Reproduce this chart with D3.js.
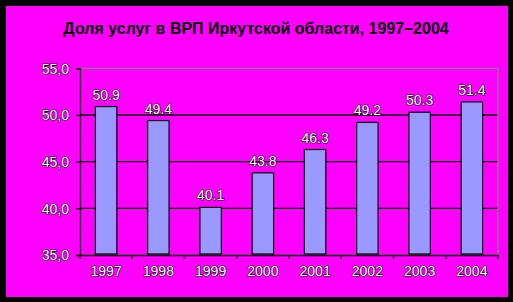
<!DOCTYPE html>
<html>
<head>
<meta charset="utf-8">
<script src="https://cdn.jsdelivr.net/npm/d3@7"></script>
<style>
  html, body { margin: 0; padding: 0; background: #000; }
  svg { display: block; }
  .lbl { font-family: "Liberation Sans", Arial, sans-serif; font-size: 14px;
         fill: #fff; stroke: #000; stroke-width: 1.1px; paint-order: stroke; }
</style>
</head>
<body>
<svg width="513" height="302"></svg>
<script>
var years = ["1997", "1998", "1999", "2000", "2001", "2002", "2003", "2004"];
var values = [50.9, 49.4, 40.1, 43.8, 46.3, 49.2, 50.3, 51.4];
var yTicks = [35, 40, 45, 50, 55];

var svg = d3.select("svg"),
  width = +svg.attr("width"),
  height = +svg.attr("height");

// black frame, magenta page
svg.append("rect").attr("width", width).attr("height", height).attr("fill", "#000");
svg.append("rect").attr("x", 6).attr("y", 6).attr("width", 502).attr("height", 291).attr("fill", "#ff00ff");

var plotLeft = 80, plotRight = 498, plotTop = 68.3, plotBottom = 255;

var x = d3.scaleBand().domain(years).range([plotLeft, plotRight]).paddingInner(0.59).paddingOuter(0.295);
var band = d3.scaleBand().domain(years).range([plotLeft, plotRight]);
var y = d3.scaleLinear().domain([35, 55]).range([plotBottom, plotTop]);

svg.append("text")
  .attr("x", 256).attr("y", 34)
  .attr("text-anchor", "middle")
  .style("font-family", "'Liberation Sans', Arial, sans-serif")
  .style("font-size", "16px").style("font-weight", "bold")
  .text("Доля услуг в ВРП Иркутской области, 1997–2004");

// gridlines
svg.append("g").selectAll("line")
  .data(yTicks.filter(function(d) { return d > 35; }))
  .enter().append("line")
  .attr("x1", plotLeft).attr("x2", plotRight)
  .attr("y1", function(d) { return y(d); }).attr("y2", function(d) { return y(d); })
  .attr("stroke", function(d) { return d === 55 ? "#808080" : "#000"; })
  .attr("stroke-width", 1.3);

// right border
svg.append("line")
  .attr("x1", plotRight).attr("x2", plotRight).attr("y1", plotTop).attr("y2", plotBottom)
  .attr("stroke", "#808080").attr("stroke-width", 1.3);

// bars
svg.append("g").selectAll("rect")
  .data(values)
  .enter().append("rect")
  .attr("x", function(d, i) { return x(years[i]); })
  .attr("width", x.bandwidth())
  .attr("y", function(d) { return y(d); })
  .attr("height", function(d) { return y(35) - y(d) - 1; })
  .attr("fill", "#9999ff")
  .attr("stroke", "#000")
  .attr("stroke-width", 1.2);

// value labels
svg.append("g").selectAll("text")
  .data(values)
  .enter().append("text")
  .attr("class", "lbl")
  .attr("x", function(d, i) { return x(years[i]) + x.bandwidth() / 2; })
  .attr("y", function(d) { return y(d) - 7; })
  .attr("text-anchor", "middle")
  .text(function(d) { return d.toFixed(1); });

// y axis
var yAxis = svg.append("g")
  .attr("transform", "translate(" + plotLeft + ",0)")
  .call(d3.axisLeft(y).tickValues(yTicks).tickSize(4).tickPadding(7)
    .tickFormat(function(d) { return d3.format(".1f")(d).replace(".", ","); }));
yAxis.select(".domain").attr("stroke", "#000").attr("stroke-width", 1.3);
yAxis.selectAll(".tick line").attr("stroke", "#000").attr("stroke-width", 1.3);
yAxis.selectAll("text").attr("class", "lbl").attr("dy", "0.35em");

// x axis
var xAxis = svg.append("g")
  .attr("transform", "translate(0," + plotBottom + ")")
  .call(d3.axisBottom(band).tickSize(0).tickPadding(21));
xAxis.select(".domain").attr("stroke", "#000").attr("stroke-width", 1.3);
xAxis.selectAll("text").attr("class", "lbl").attr("dy", "0");
svg.append("g").selectAll("line")
  .data(years.concat(["end"]))
  .enter().append("line")
  .attr("x1", function(d, i) { return plotLeft + i * band.bandwidth(); })
  .attr("x2", function(d, i) { return plotLeft + i * band.bandwidth(); })
  .attr("y1", plotBottom).attr("y2", plotBottom + 4)
  .attr("stroke", "#000").attr("stroke-width", 1.3);
</script>
</body>
</html>
